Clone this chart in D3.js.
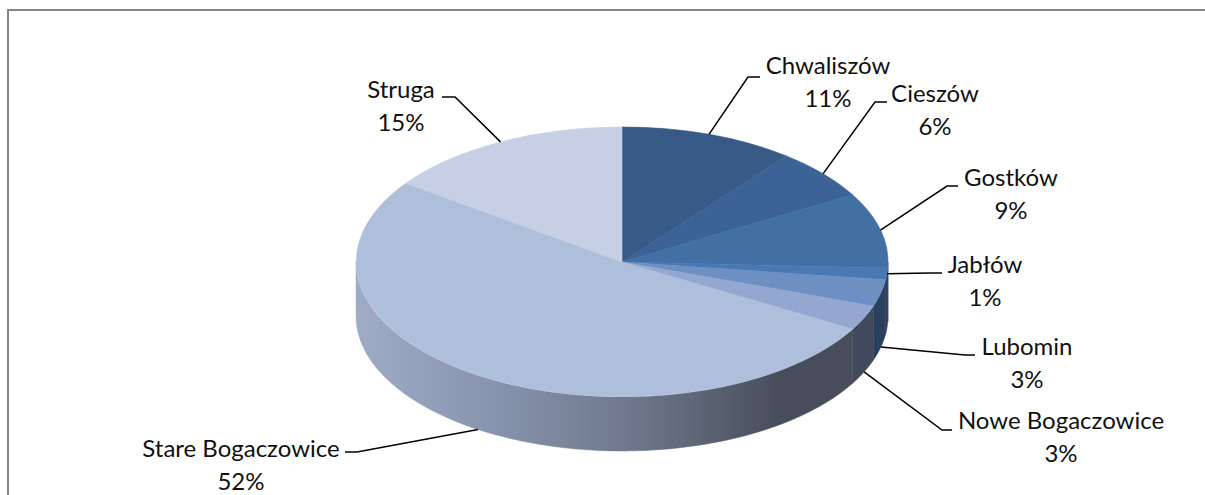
<!DOCTYPE html>
<html><head><meta charset="utf-8">
<script src="https://cdn.jsdelivr.net/npm/d3@7"></script>
<style>html,body{margin:0;padding:0;background:#fff}svg{display:block}text{font-family:Lato,"Open Sans",sans-serif;font-size:24px;fill:#111}</style>
</head><body><svg id="c" width="1205" height="495"></svg>
<script>
const categories=["Chwaliszów","Cieszów","Gostków","Jabłów","Lubomin","Nowe Bogaczowice","Stare Bogaczowice","Struga"];
const values=[10.6,6.1,9.0,1.4,3.2,3.0,51.6,15.1];
const percentLabels=["11%","6%","9%","1%","3%","3%","52%","15%"];
const topColors=["#375a87","#3c6395","#4270a5","#4a78b4","#6d8fc2","#94a7d0","#aebfdb","#c6cfe3"];
const labelX=[828,935,1011,985,1027,1061,241,401];
const labelY=[66,94,178,265,347,421,449,90];
const elbowX=[748,875,947,930,965,942,357,455];
const elbowY=[77,102,186,273,355,430,452,97];
const tailX=[760,887,958,942,975,952,345,442];

const W=1205,H=495,cx=622,cy=262,rx=266,ry=135,depth=54;
const svg=d3.select("#c");
svg.append("path").attr("d",d3.line()([[8,H],[8,10],[W,10]])).attr("fill","none").attr("stroke","#868686").attr("stroke-width",2);
const defs=svg.append("defs");
const g=defs.append("linearGradient").attr("id","side").attr("gradientUnits","userSpaceOnUse").attr("x1",cx-rx).attr("x2",cx+rx).attr("y1",0).attr("y2",0);
[[0,"#a0abc6"],[.3,"#8490a9"],[.55,"#6b7386"],[.8,"#474d5a"],[1,"#474d5a"]].forEach(d=>g.append("stop").attr("offset",d[0]).attr("stop-color",d[1]));

const pie=d3.pie().sort(null).value(d=>d)(values);
const px=a=>cx+rx*Math.sin(a), py=a=>cy-ry*Math.cos(a);
const line=d3.line();
const HALF=Math.PI/2, TQ=3*Math.PI/2;
const sideFill=["","","#2b3f5f","#2b3f5f","#2b3f5f","#414a5c","url(#side)","url(#side)"];
pie.forEach((s,i)=>{
  const a0=Math.max(s.startAngle,HALF),a1=Math.min(s.endAngle,TQ);
  if(a1<=a0||!sideFill[i])return;
  const n=60,as=d3.range(n+1).map(k=>a0+(a1-a0)*k/n);
  const top=as.map(a=>[px(a),py(a)]),bot=as.slice().reverse().map(a=>[px(a),py(a)+depth]);
  svg.append("path").attr("d",line(top.concat(bot))+"Z").attr("fill",sideFill[i]).attr("stroke",sideFill[i]).attr("stroke-width",.5);
});
const arc=d3.arc().innerRadius(0).outerRadius(1);
const face=svg.append("g").attr("transform",`translate(${cx},${cy}) scale(${rx},${ry})`);
face.selectAll("path").data(pie).join("path").attr("d",arc).attr("fill",(d,i)=>topColors[i])
  .attr("stroke",(d,i)=>topColors[i]).attr("stroke-width",.6).attr("vector-effect","non-scaling-stroke");
pie.forEach((s,i)=>{
  const m=(s.startAngle+s.endAngle)/2;
  const drop=(m>1.75&&m<TQ)?depth:0;
  const pts=[[px(m),py(m)+drop],[elbowX[i],elbowY[i]],[tailX[i],elbowY[i]]];
  svg.append("path").attr("d",line(pts)).attr("fill","none").attr("stroke","#000").attr("stroke-width",1.5);
  const t=svg.append("text").attr("text-anchor","middle");
  t.append("tspan").attr("x",labelX[i]).attr("y",labelY[i]+8).text(categories[i]);
  t.append("tspan").attr("x",labelX[i]).attr("y",labelY[i]+41).text(percentLabels[i]);
});
</script></body></html>
